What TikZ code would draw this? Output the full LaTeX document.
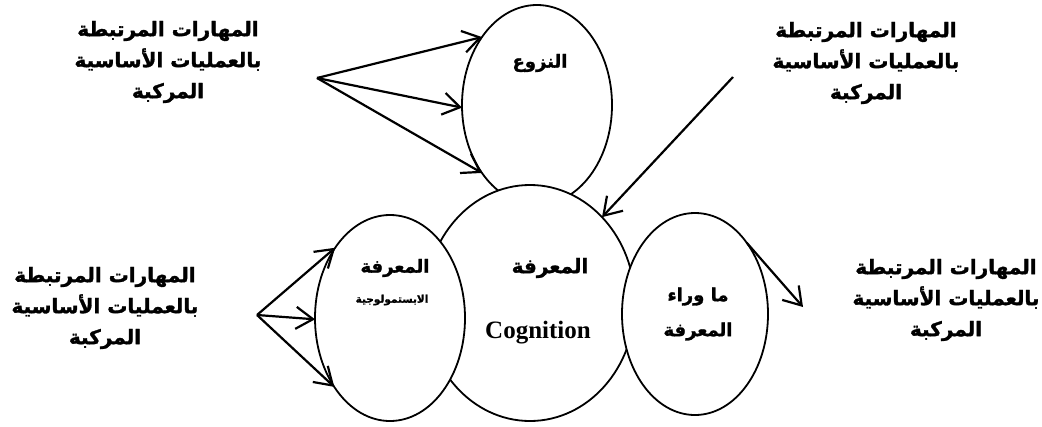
\documentclass[tikz,border=0pt]{standalone}
\usepackage{fontspec}
\usetikzlibrary{arrows.meta,shapes.geometric}
\TeXXeTstate=1
\setmainfont{Liberation Serif}
\newfontfamily\arabicfont[Script=Arabic,BoldFont={DejaVu Sans Bold},BoldFeatures={FakeBold=1.5}]{DejaVu Sans}
\newcommand{\rl}[1]{\beginR #1\endR}

\tikzset{
  blob/.style={ellipse, draw, fill=white, line width=1.8pt, inner sep=0pt, outer sep=0pt},
  label/.style={font=\arabicfont\bfseries\fontsize{20}{31}\selectfont, align=center, inner sep=0pt},
  inlabel/.style={font=\arabicfont\bfseries\fontsize{18}{35}\selectfont, align=center, inner sep=0pt},
  link/.style={line width=2.2pt, -{Straight Barb[length=17pt,width=22pt,line width=2.2pt]}},
}

\begin{document}
\begin{tikzpicture}[x=1pt,y=-1pt]
  \useasboundingbox (0,0) rectangle (1042,426);

  % the four areas of the model, back to front
  \node[blob, minimum width=150pt, minimum height=200pt] (naz) at (537,105) {};
  \node[blob, minimum width=210pt, minimum height=236pt] (cog) at (530,303) {};
  \node[blob, minimum width=150pt, minimum height=206pt] (epi) at (390,318) {};
  \node[blob, minimum width=146pt, minimum height=202pt] (meta) at (695,314) {};

  % titles inside the areas
  \node[inlabel] (tnaz) at (540,63) {\rl{النزوع}};
  \node[inlabel, font=\arabicfont\bfseries\fontsize{20}{24}\selectfont] (tcog) at (550,268) {\rl{المعرفة}};
  \node[font=\bfseries\fontsize{25}{30}\selectfont, inner sep=0pt] (tcogen) at (538,333) {Cognition};
  \node[inlabel] (tepi) at (395,268) {\rl{المعرفة}};
  \node[font=\arabicfont\bfseries\fontsize{10.5}{12}\selectfont, inner sep=0pt] (tepi2) at (392,300) {\rl{الابستمولوجية}};
  \node[inlabel] (tmeta) at (698,314) {\rl{ما وراء}\\\rl{المعرفة}};

  % skill groups around the model
  \node[label] (sk1) at (168,62) {\rl{المهارات المرتبطة}\\\rl{بالعمليات الأساسية}\\\rl{المركبة}};
  \node[label] (sk2) at (866,63) {\rl{المهارات المرتبطة}\\\rl{بالعمليات الأساسية}\\\rl{المركبة}};
  \node[label] (sk3) at (105,308) {\rl{المهارات المرتبطة}\\\rl{بالعمليات الأساسية}\\\rl{المركبة}};
  \node[label] (sk4) at (946,300) {\rl{المهارات المرتبطة}\\\rl{بالعمليات الأساسية}\\\rl{المركبة}};

  % fan-out points of the arrows
  \coordinate (f1) at (317,78);
  \coordinate (f2) at (733,77);
  \coordinate (f3) at (257,315);
  \coordinate (f4) at (803,307);

  \draw[link] (f1) -- (naz.129);
  \draw[link] (f1) -- (naz.182);
  \draw[link] (f1) -- (naz.231);
  \draw[link] (f2) -- (cog.50);
  \draw[link] (f3) -- (epi.128);
  \draw[link] (f3) -- (epi.181);
  \draw[link] (f3) -- (epi.231);
  \draw[link] (meta.54) -- (f4);
\end{tikzpicture}
\end{document}
